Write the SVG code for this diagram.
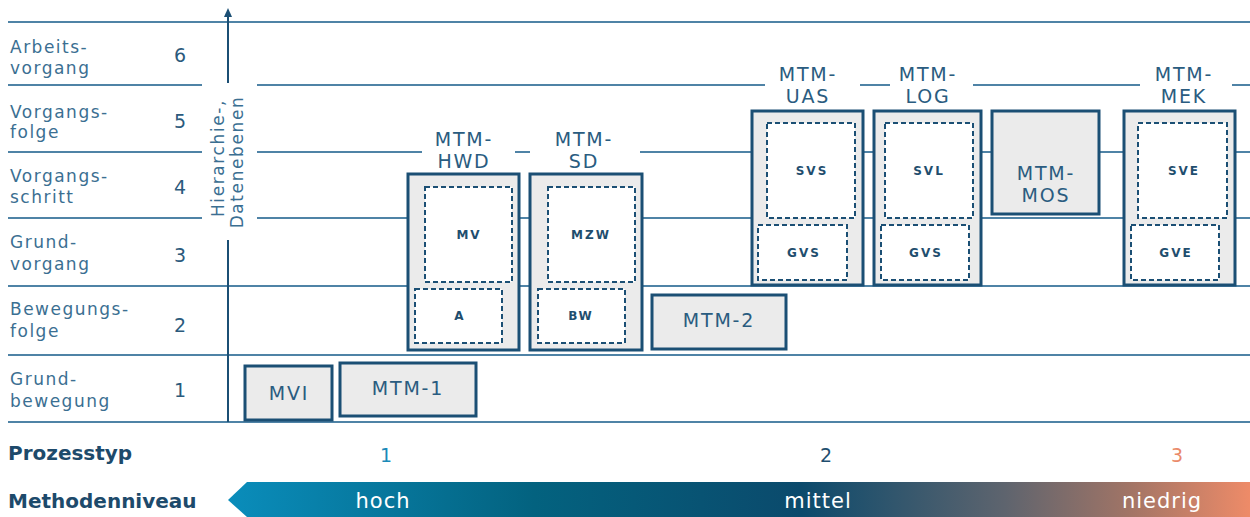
<svg xmlns="http://www.w3.org/2000/svg" width="1250" height="517" viewBox="0 0 1250 517">
<style>
.grid{stroke:#4f83a6;stroke-width:2;fill:none}
.lbl{font-family:"DejaVu Sans",Verdana,sans-serif;font-size:17px;letter-spacing:1.5px;fill:#3b6f92}
.num{font-family:"DejaVu Sans",Verdana,sans-serif;font-size:19px;fill:#2b5a7c;text-anchor:middle}
.axlbl{font-family:"DejaVu Sans",Verdana,sans-serif;font-size:17px;letter-spacing:1.6px;fill:#3b6f92;text-anchor:middle}
.box{fill:#ebebeb;stroke:#1b4f74;stroke-width:3}
.inner{fill:#ffffff;stroke:#1b4f74;stroke-width:2;stroke-dasharray:5 3}
.t{font-family:"DejaVu Sans",Verdana,sans-serif;font-size:19px;letter-spacing:1.8px;fill:#2a5c80;text-anchor:middle}
.s{font-family:"DejaVu Sans",Verdana,sans-serif;font-size:12px;font-weight:bold;letter-spacing:2px;fill:#1f4e6e;text-anchor:middle}
.bold{font-family:"DejaVu Sans",Verdana,sans-serif;font-size:20px;font-weight:bold;fill:#1d4a6b}
.pt{font-family:"DejaVu Sans",Verdana,sans-serif;font-size:19px;text-anchor:middle}
.bar{font-family:"DejaVu Sans",Verdana,sans-serif;font-size:21px;letter-spacing:1px;fill:#ffffff;text-anchor:middle}
</style>
<defs>
<linearGradient id="grad" x1="228" y1="0" x2="1250" y2="0" gradientUnits="userSpaceOnUse">
<stop offset="0" stop-color="#0a8dbb"/>
<stop offset="0.3" stop-color="#03627f"/>
<stop offset="0.56" stop-color="#0b4a6c"/>
<stop offset="0.76" stop-color="#5e646e"/>
<stop offset="0.88" stop-color="#a07466"/>
<stop offset="1" stop-color="#ee8b68"/>
</linearGradient>
</defs>

<g id="grid">
<line class="grid" x1="8" y1="22" x2="1250" y2="22"/>
<line class="grid" x1="8" y1="85" x2="202" y2="85"/>
<line class="grid" x1="257" y1="85" x2="765" y2="85"/>
<line class="grid" x1="860" y1="85" x2="890" y2="85"/>
<line class="grid" x1="973" y1="85" x2="1140" y2="85"/>
<line class="grid" x1="1232" y1="85" x2="1250" y2="85"/>
<line class="grid" x1="8" y1="152" x2="202" y2="152"/>
<line class="grid" x1="257" y1="152" x2="422" y2="152"/>
<line class="grid" x1="515" y1="152" x2="530" y2="152"/>
<line class="grid" x1="640" y1="152" x2="1250" y2="152"/>
<line class="grid" x1="8" y1="218" x2="202" y2="218"/>
<line class="grid" x1="257" y1="218" x2="1250" y2="218"/>
<line class="grid" x1="8" y1="286" x2="1250" y2="286"/>
<line class="grid" x1="8" y1="355" x2="1250" y2="355"/>
<line class="grid" x1="8" y1="422" x2="1250" y2="422"/>
</g>

<g id="axis">
<line x1="228" y1="83" x2="228" y2="15" stroke="#1b4f74" stroke-width="2"/>
<polygon points="228,8 224,17 232,17" fill="#1b4f74"/>
<line x1="228" y1="240" x2="228" y2="422" stroke="#1b4f74" stroke-width="2"/>
<text class="axlbl" transform="translate(224,158) rotate(-90)">Hierarchie-,</text>
<text class="axlbl" transform="translate(243,162) rotate(-90)">Datenebenen</text>
</g>

<g id="row-labels">
<text class="lbl" x="10" y="53">Arbeits-</text><text class="lbl" x="10" y="74">vorgang</text><text class="num" x="180" y="62">6</text>
<text class="lbl" x="10" y="118">Vorgangs-</text><text class="lbl" x="10" y="138">folge</text><text class="num" x="180" y="128">5</text>
<text class="lbl" x="10" y="182">Vorgangs-</text><text class="lbl" x="10" y="203">schritt</text><text class="num" x="180" y="194">4</text>
<text class="lbl" x="10" y="248">Grund-</text><text class="lbl" x="10" y="270">vorgang</text><text class="num" x="180" y="262">3</text>
<text class="lbl" x="10" y="315">Bewegungs-</text><text class="lbl" x="10" y="337">folge</text><text class="num" x="180" y="332">2</text>
<text class="lbl" x="10" y="385">Grund-</text><text class="lbl" x="10" y="407">bewegung</text><text class="num" x="180" y="397">1</text>
</g>

<g id="node-hwd">
<text class="t" x="464" y="146">MTM-</text><text class="t" x="464" y="168">HWD</text>
<rect class="box" x="408" y="174" width="111" height="176"/>
<rect class="inner" x="425" y="187" width="87" height="95"/>
<text class="s" x="469" y="239">MV</text>
<rect class="inner" x="415" y="289" width="87" height="54"/>
<text class="s" x="460" y="320">A</text>
</g>

<g id="node-sd">
<text class="t" x="584" y="146">MTM-</text><text class="t" x="584" y="168">SD</text>
<rect class="box" x="530" y="174" width="112" height="176"/>
<rect class="inner" x="548" y="187" width="87" height="95"/>
<text class="s" x="591" y="239">MZW</text>
<rect class="inner" x="538" y="289" width="87" height="54"/>
<text class="s" x="581" y="320">BW</text>
</g>

<g id="node-uas">
<text class="t" x="808" y="81">MTM-</text><text class="t" x="808" y="103">UAS</text>
<rect class="box" x="752" y="111" width="111" height="174"/>
<rect class="inner" x="767" y="123" width="88" height="95"/>
<text class="s" x="812" y="175">SVS</text>
<rect class="inner" x="758" y="225" width="89" height="55"/>
<text class="s" x="804" y="257">GVS</text>
</g>

<g id="node-log">
<text class="t" x="928" y="81">MTM-</text><text class="t" x="928" y="103">LOG</text>
<rect class="box" x="874" y="111" width="107" height="174"/>
<rect class="inner" x="885" y="123" width="88" height="95"/>
<text class="s" x="929" y="175">SVL</text>
<rect class="inner" x="881" y="225" width="88" height="55"/>
<text class="s" x="926" y="257">GVS</text>
</g>

<g id="node-mos">
<rect class="box" x="992" y="111" width="107" height="103"/>
<text class="t" x="1046" y="180">MTM-</text><text class="t" x="1046" y="202">MOS</text>
</g>

<g id="node-mek">
<text class="t" x="1184" y="81">MTM-</text><text class="t" x="1184" y="103">MEK</text>
<rect class="box" x="1124" y="111" width="111" height="174"/>
<rect class="inner" x="1138" y="123" width="89" height="95"/>
<text class="s" x="1184" y="175">SVE</text>
<rect class="inner" x="1131" y="225" width="88" height="55"/>
<text class="s" x="1176" y="257">GVE</text>
</g>

<g id="node-mtm2">
<rect class="box" x="652" y="295" width="134" height="54"/>
<text class="t" x="719" y="327">MTM-2</text>
</g>

<g id="node-mvi">
<rect class="box" x="245" y="366" width="87" height="54"/>
<text class="t" x="289" y="400">MVI</text>
</g>

<g id="node-mtm1">
<rect class="box" x="340" y="363" width="136" height="53"/>
<text class="t" x="408" y="395">MTM-1</text>
</g>

<g id="prozesstyp">
<text class="bold" x="8" y="460">Prozesstyp</text>
<text class="pt" x="386" y="462" fill="#1a8ab8">1</text>
<text class="pt" x="826" y="462" fill="#1f4e6e">2</text>
<text class="pt" x="1177" y="462" fill="#ea8a6a">3</text>
</g>

<g id="methodenniveau">
<text class="bold" x="8" y="508">Methodenniveau</text>
<polygon points="247,482 1250,482 1250,517 247,517 228,500" fill="url(#grad)"/>
<text class="bar" x="383" y="508">hoch</text>
<text class="bar" x="818" y="508">mittel</text>
<text class="bar" x="1162" y="508">niedrig</text>
</g>
</svg>
